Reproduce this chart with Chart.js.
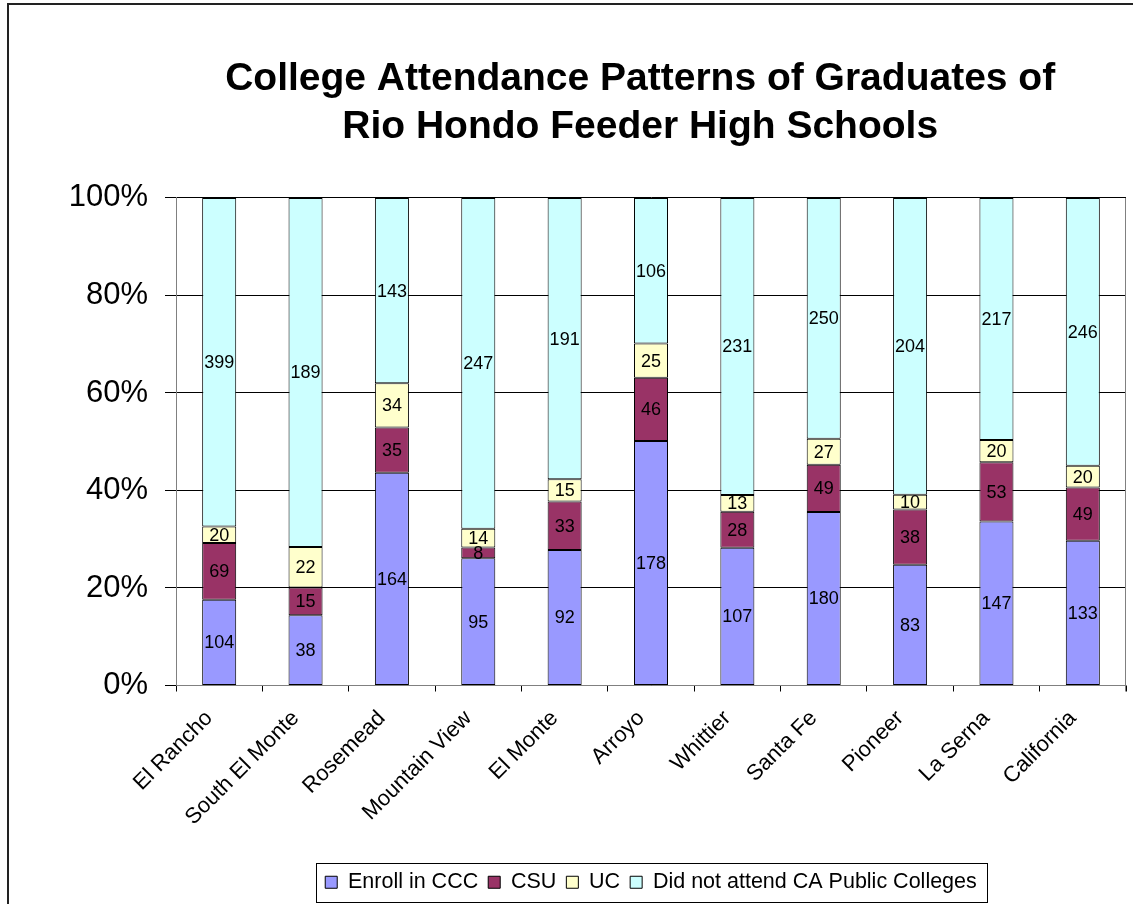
<!DOCTYPE html>
<html>
<head>
<meta charset="utf-8">
<script src="https://cdn.jsdelivr.net/npm/chart.js@4.4.1/dist/chart.umd.min.js"></script>
<style>
  html, body { margin: 0; padding: 0; background: #fff; overflow: hidden; }
  #frame { position: absolute; left: 7px; top: 3px; width: 2000px; height: 2000px;
           border-left: 2px solid #222; border-top: 2px solid #222; }
  #chart { position: absolute; left: 0; top: 0; }
</style>
</head>
<body>
<div id="frame"></div>
<canvas id="chart" width="1133" height="904"></canvas>
<script>
// values (counts of graduates)
const schools = ['El Rancho', 'South El Monte', 'Rosemead', 'Mountain View', 'El Monte',
  'Arroyo', 'Whittier', 'Santa Fe', 'Pioneer', 'La Serna', 'California']
const enrollCCC = [104, 38, 164, 95, 92, 178, 107, 180, 83, 147, 133]
const csu = [69, 15, 35, 8, 33, 46, 28, 49, 38, 53, 49]
const uc = [20, 22, 34, 14, 15, 25, 13, 27, 10, 20, 20]
const notAttend = [399, 189, 143, 247, 191, 106, 231, 250, 204, 217, 246]
const seriesNames = ['Enroll in CCC', 'CSU', 'UC', 'Did not attend CA Public Colleges']
const seriesColors = ['#9999FF', '#993366', '#FFFFCC', '#CCFFFF']
// trailing nbsp nudges the centred title a little to the left, like the original
const titleLines = ['College Attendance Patterns of Graduates of\u00a0\u00a0', 'Rio Hondo Feeder High Schools\u00a0\u00a0']

var counts = [enrollCCC, csu, uc, notAttend]
var totals = schools.map((s, i) => counts.reduce((sum, arr) => sum + arr[i], 0))

function toPercent(arr) {
    return arr.map((v, i) => v / totals[i] * 100)
}

var datasets = counts.map((arr, k) => ({
    label: seriesNames[k],
    data: toPercent(arr),
    raw: arr,
    backgroundColor: seriesColors[k],
    borderColor: '#000',
    borderWidth: 1,
    borderSkipped: false,
    categoryPercentage: 1,
    barPercentage: 0.394,
}))

// writes the counts in the middle of each segment
var countLabels = {
    id: 'countLabels',
    afterDatasetsDraw(chart) {
        var ctx = chart.ctx
        ctx.save()
        ctx.font = '18px "Liberation Sans", Arial, sans-serif'
        ctx.fillStyle = '#000'
        ctx.textAlign = 'center'
        ctx.textBaseline = 'middle'
        chart.data.datasets.forEach((ds, k) => {
            chart.getDatasetMeta(k).data.forEach((bar, i) => {
                ctx.fillText(String(ds.raw[i]), bar.x, (bar.y + bar.base) / 2 + 1)
            })
        })
        ctx.restore()
    }
}

// gray right edge of the plot area and a box around the legend
var frameBits = {
    id: 'frameBits',
    beforeDatasetsDraw(chart) {
        var a = chart.chartArea
        var ctx = chart.ctx
        ctx.save()
        ctx.strokeStyle = '#808080'
        ctx.lineWidth = 1
        ctx.beginPath()
        ctx.moveTo(Math.round(a.right) - 0.5, a.top)
        ctx.lineTo(Math.round(a.right) - 0.5, a.bottom + 6)
        ctx.stroke()
        ctx.restore()
    },
    afterDraw(chart) {
        var boxes = chart.legend.legendHitBoxes
        if (!boxes || !boxes.length) return
        var left = Math.min(...boxes.map(b => b.left)) - 9
        var right = Math.max(...boxes.map(b => b.left + b.width)) + 10
        var ctx = chart.ctx
        ctx.save()
        ctx.strokeStyle = '#000'
        ctx.lineWidth = 1
        ctx.strokeRect(Math.round(left) + 0.5, 863.5, Math.round(right - left), 39)
        ctx.restore()
    }
}

function initChart() {
    var ctx = document.getElementById('chart').getContext('2d')
    new Chart(ctx, {
        type: 'bar',
        data: { labels: schools, datasets: datasets },
        options: {
            responsive: false,
            animation: false,
            devicePixelRatio: 1,
            layout: { padding: { left: 0, right: 7, top: 0, bottom: 1 } },
            scales: {
                x: {
                    stacked: true,
                    grid: { display: true, drawOnChartArea: false, drawTicks: true, tickLength: 6, color: '#000', offset: true },
                    border: { display: true, color: '#808080' },
                    ticks: {
                        color: '#000',
                        font: { family: '"Liberation Sans", Arial, sans-serif', size: 22 },
                        minRotation: 45,
                        maxRotation: 45,
                        padding: 14,
                        labelOffset: -10,
                        autoSkip: false,
                    },
                    afterFit(scale) { scale.height = 176 }
                },
                y: {
                    stacked: true,
                    min: 0,
                    max: 100,
                    grid: { color: '#000', lineWidth: 1, tickLength: 11 },
                    border: { display: true, color: '#808080' },
                    ticks: {
                        stepSize: 20,
                        color: '#000',
                        padding: 17,
                        font: { family: '"Liberation Sans", Arial, sans-serif', size: 31 },
                        callback: v => v + '%'
                    },
                    afterFit(scale) { scale.width = 176 }
                }
            },
            plugins: {
                title: {
                    display: true,
                    fullSize: false,
                    text: titleLines,
                    color: '#000',
                    font: { family: '"Liberation Sans", Arial, sans-serif', size: 39, weight: 'bold', lineHeight: 1.23 },
                    padding: { top: 55, bottom: 47 }
                },
                legend: {
                    position: 'bottom',
                    fullSize: false,
                    labels: {
                        color: '#000',
                        boxWidth: 12,
                        boxHeight: 12,
                        padding: 10,
                        font: { family: '"Liberation Sans", Arial, sans-serif', size: 21.5 }
                    }
                },
                tooltip: { enabled: false }
            }
        },
        plugins: [countLabels, frameBits]
    })
}

window.onload = initChart
</script>
</body>
</html>
